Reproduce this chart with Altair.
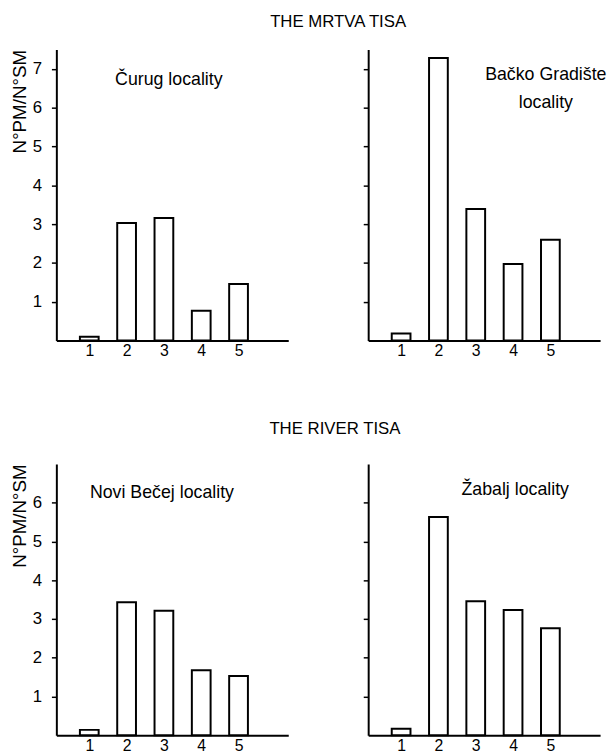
import altair as alt
import pandas as pd

categories = [1, 2, 3, 4, 5]
curug = [0.10, 3.03, 3.16, 0.77, 1.46]
backo = [0.18, 7.28, 3.39, 1.97, 2.60]
novi = [0.14, 3.43, 3.21, 1.68, 1.53]
zabalj = [0.17, 5.63, 3.46, 3.23, 2.76]

FONT = "Liberation Sans"
FS = 17


def panel(values, ymax, yticks, left, labels, height):
    df = pd.DataFrame({"cat": categories, "val": values})
    yaxis = alt.Axis(
        values=yticks,
        format="d",
        grid=False,
        domainColor="black",
        domainWidth=2,
        tickColor="black",
        tickWidth=1.5,
        tickSize=5,
        labels=left,
        labelFontSize=FS,
        labelFont=FONT,
        labelColor="black",
        labelPadding=10,
        title="N°PM/N°SM" if left else None,
        titleFont=FONT,
        titleFontSize=19,
        titleFontWeight="normal",
        titleColor="black",
        titleAnchor="end",
        titlePadding=3,
    )
    xaxis = alt.Axis(
        values=categories,
        format="d",
        grid=False,
        ticks=False,
        domainColor="black",
        domainWidth=2,
        labelFontSize=16,
        labelFont=FONT,
        labelColor="black",
        labelPadding=2,
        title=None,
    )
    bars = alt.Chart(df).mark_bar(
        width=19, fill="white", stroke="black", strokeWidth=2
    ).encode(
        x=alt.X("cat:Q", scale=alt.Scale(domain=[0.25, 6.2], nice=False, zero=False), axis=xaxis),
        y=alt.Y("val:Q", scale=alt.Scale(domain=[0, ymax], nice=False), axis=yaxis),
    )
    layers = [bars]
    for (txt, px, py) in labels:
        tdf = pd.DataFrame({"label": [txt]})
        layers.append(
            alt.Chart(tdf).mark_text(
                font=FONT, fontSize=18, fontWeight="normal", color="black",
                align="center", baseline="middle"
            ).encode(x=alt.value(px), y=alt.value(py), text="label:N")
        )
    return alt.layer(*layers).properties(width=235, height=height)


tl = panel(curug, 7.5, [1, 2, 3, 4, 5, 6, 7], True, [("Čurug locality", 114, 31)], 295)
tr = panel(backo, 7.5, [1, 2, 3, 4, 5, 6, 7], False,
           [("Bačko Gradište", 180, 26), ("locality", 180, 54)], 295)
bl = panel(novi, 7, [1, 2, 3, 4, 5, 6], True, [("Novi Bečej locality", 107, 30)], 275)
br = panel(zabalj, 7, [1, 2, 3, 4, 5, 6], False, [("Žabalj locality", 149, 26)], 275)


def ttl(t, off):
    return alt.TitleParams(t, anchor="middle", font=FONT, fontSize=17,
                           fontWeight="normal", color="black", offset=off, dx=30)


top = alt.hconcat(tl, tr, spacing=75, title=ttl("THE MRTVA TISA", 19))
bottom = alt.hconcat(bl, br, spacing=75, title=ttl("THE RIVER TISA", 26))

chart = alt.vconcat(top, bottom, spacing=63).properties(
    padding={"left": 2, "top": 0, "right": 0, "bottom": 0}
).configure_view(stroke=None)

chart.save("out.html", embed_options={"renderer": "svg", "actions": False})
